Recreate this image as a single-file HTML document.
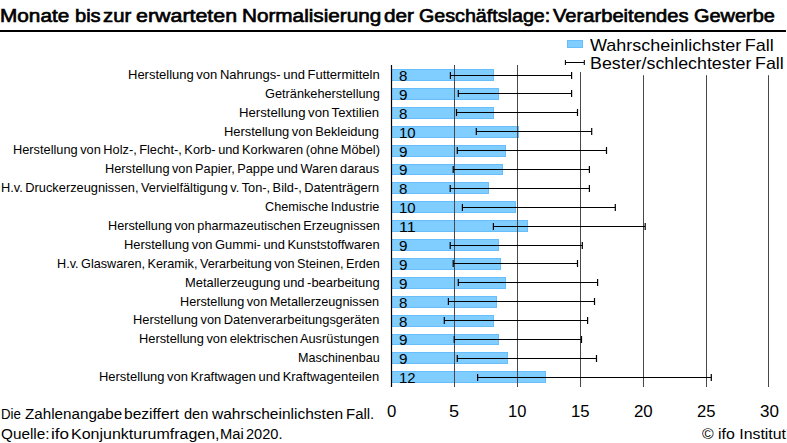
<!DOCTYPE html>
<html lang="de"><head><meta charset="utf-8"><title>Monate bis zur erwarteten Normalisierung der Geschäftslage</title>
<style>
html,body{margin:0;padding:0;background:#fff}
body{width:787px;height:443px;position:relative;overflow:hidden;font-family:"Liberation Sans",sans-serif;color:#000}
.t{position:absolute;white-space:nowrap;line-height:40px;transform-origin:0 0;display:block}
svg{position:absolute;left:0;top:0}
</style></head><body>

<svg width="787" height="443" viewBox="0 0 787 443">
<rect x="0" y="30" width="786" height="2" fill="#000"/>
<rect x="392" y="69" width="102" height="12" fill="#68bdfb"/>
<rect x="392" y="70" width="101" height="10" fill="#80ceff"/>
<rect x="392" y="88" width="107" height="12" fill="#68bdfb"/>
<rect x="392" y="89" width="106" height="10" fill="#80ceff"/>
<rect x="392" y="107" width="102" height="12" fill="#68bdfb"/>
<rect x="392" y="108" width="101" height="10" fill="#80ceff"/>
<rect x="392" y="126" width="127" height="12" fill="#68bdfb"/>
<rect x="392" y="127" width="126" height="10" fill="#80ceff"/>
<rect x="392" y="145" width="114" height="12" fill="#68bdfb"/>
<rect x="392" y="146" width="113" height="10" fill="#80ceff"/>
<rect x="392" y="164" width="111" height="11" fill="#68bdfb"/>
<rect x="392" y="165" width="110" height="9" fill="#80ceff"/>
<rect x="392" y="182" width="97" height="12" fill="#68bdfb"/>
<rect x="392" y="183" width="96" height="10" fill="#80ceff"/>
<rect x="392" y="201" width="124" height="12" fill="#68bdfb"/>
<rect x="392" y="202" width="123" height="10" fill="#80ceff"/>
<rect x="392" y="220" width="136" height="12" fill="#68bdfb"/>
<rect x="392" y="221" width="135" height="10" fill="#80ceff"/>
<rect x="392" y="239" width="107" height="12" fill="#68bdfb"/>
<rect x="392" y="240" width="106" height="10" fill="#80ceff"/>
<rect x="392" y="258" width="109" height="12" fill="#68bdfb"/>
<rect x="392" y="259" width="108" height="10" fill="#80ceff"/>
<rect x="392" y="277" width="114" height="12" fill="#68bdfb"/>
<rect x="392" y="278" width="113" height="10" fill="#80ceff"/>
<rect x="392" y="296" width="105" height="12" fill="#68bdfb"/>
<rect x="392" y="297" width="104" height="10" fill="#80ceff"/>
<rect x="392" y="315" width="102" height="12" fill="#68bdfb"/>
<rect x="392" y="316" width="101" height="10" fill="#80ceff"/>
<rect x="392" y="334" width="107" height="11" fill="#68bdfb"/>
<rect x="392" y="335" width="106" height="9" fill="#80ceff"/>
<rect x="392" y="352" width="116" height="12" fill="#68bdfb"/>
<rect x="392" y="353" width="115" height="10" fill="#80ceff"/>
<rect x="392" y="371" width="154" height="12" fill="#68bdfb"/>
<rect x="392" y="372" width="153" height="10" fill="#80ceff"/>
<rect x="454" y="65.0" width="1" height="322.0" fill="#484848"/>
<rect x="517" y="65.0" width="1" height="322.0" fill="#484848"/>
<rect x="580" y="72.1" width="1" height="314.9" fill="#484848"/>
<rect x="643" y="75.2" width="1" height="311.8" fill="#484848"/>
<rect x="706" y="75.2" width="1" height="311.8" fill="#484848"/>
<rect x="768" y="75.2" width="1" height="311.8" fill="#484848"/>
<rect x="390.9" y="65" width="1.2" height="322" fill="#000"/>
<path d="M450.4 75.50H571.6M450.4 72.00v7M571.6 72.00v7" stroke="#000" stroke-width="1.2" fill="none"/>
<path d="M458.3 93.50H571.6M458.3 90.00v7M571.6 90.00v7" stroke="#000" stroke-width="1.2" fill="none"/>
<path d="M456.5 112.50H577.5M456.5 109.00v7M577.5 109.00v7" stroke="#000" stroke-width="1.2" fill="none"/>
<path d="M476.3 131.50H591.7M476.3 128.00v7M591.7 128.00v7" stroke="#000" stroke-width="1.2" fill="none"/>
<path d="M457.3 150.50H606.5M457.3 147.00v7M606.5 147.00v7" stroke="#000" stroke-width="1.2" fill="none"/>
<path d="M453.2 169.50H589.4M453.2 166.00v7M589.4 166.00v7" stroke="#000" stroke-width="1.2" fill="none"/>
<path d="M450.2 188.50H589.4M450.2 185.00v7M589.4 185.00v7" stroke="#000" stroke-width="1.2" fill="none"/>
<path d="M462.4 207.50H615.3M462.4 204.00v7M615.3 204.00v7" stroke="#000" stroke-width="1.2" fill="none"/>
<path d="M493.4 226.50H645.2M493.4 223.00v7M645.2 223.00v7" stroke="#000" stroke-width="1.2" fill="none"/>
<path d="M450.2 245.50H582.3M450.2 242.00v7M582.3 242.00v7" stroke="#000" stroke-width="1.2" fill="none"/>
<path d="M453.2 263.50H577.5M453.2 260.00v7M577.5 260.00v7" stroke="#000" stroke-width="1.2" fill="none"/>
<path d="M458.3 282.50H597.6M458.3 279.00v7M597.6 279.00v7" stroke="#000" stroke-width="1.2" fill="none"/>
<path d="M448.4 301.50H594.5M448.4 298.00v7M594.5 298.00v7" stroke="#000" stroke-width="1.2" fill="none"/>
<path d="M444.3 320.50H587.6M444.3 317.00v7M587.6 317.00v7" stroke="#000" stroke-width="1.2" fill="none"/>
<path d="M454.2 339.50H581.5M454.2 336.00v7M581.5 336.00v7" stroke="#000" stroke-width="1.2" fill="none"/>
<path d="M457.3 358.50H596.5M457.3 355.00v7M596.5 355.00v7" stroke="#000" stroke-width="1.2" fill="none"/>
<path d="M477.6 377.50H711.3M477.6 374.00v7M711.3 374.00v7" stroke="#000" stroke-width="1.2" fill="none"/>
<rect x="567" y="40" width="16" height="8" fill="#68bdfb"/>
<rect x="568" y="41" width="14" height="6" fill="#80ceff"/>
<path d="M565.3 62.4H584.4M565.4 59.9v5M584.3 59.9v5" stroke="#000" stroke-width="1.05" fill="none"/>
</svg>
<span class="t" style="left:0.23px;top:-4.38px;font-size:19.1px;-webkit-text-stroke:0.68px #000;transform:scaleX(1.0872)">Monate</span>
<span class="t" style="left:74.53px;top:-4.38px;font-size:19.1px;-webkit-text-stroke:0.68px #000;transform:scaleX(1.0511)">bis</span>
<span class="t" style="left:102.94px;top:-4.38px;font-size:19.1px;-webkit-text-stroke:0.68px #000;transform:scaleX(1.0608)">zur</span>
<span class="t" style="left:135.85px;top:-4.38px;font-size:19.1px;-webkit-text-stroke:0.68px #000;transform:scaleX(1.1206)">erwarteten</span>
<span class="t" style="left:241.83px;top:-4.38px;font-size:19.1px;-webkit-text-stroke:0.68px #000;transform:scaleX(1.0845)">Normalisierung</span>
<span class="t" style="left:384.38px;top:-4.38px;font-size:19.1px;-webkit-text-stroke:0.68px #000;transform:scaleX(1.0860)">der</span>
<span class="t" style="left:418.95px;top:-4.38px;font-size:19.1px;-webkit-text-stroke:0.68px #000;transform:scaleX(1.0306)">Geschäftslage:</span>
<span class="t" style="left:553.31px;top:-4.38px;font-size:19.1px;-webkit-text-stroke:0.68px #000;transform:scaleX(1.0557)">Verarbeitendes</span>
<span class="t" style="left:693.74px;top:-4.38px;font-size:19.1px;-webkit-text-stroke:0.68px #000;transform:scaleX(1.0449)">Gewerbe</span>
<span class="t" style="left:590.49px;top:25.62px;font-size:16.6px;word-spacing:-0.08em;transform:scaleX(1.0840)">Wahrscheinlichster Fall</span>
<span class="t" style="left:590.29px;top:43.82px;font-size:16.6px;word-spacing:-0.08em;transform:scaleX(1.0741)">Bester/schlechtester Fall</span>
<span class="t" style="left:127.60px;top:54.88px;font-size:12.4px;word-spacing:-0.08em;transform:scaleX(1.0496)">Herstellung von Nahrungs- und Futtermitteln</span>
<span class="t" style="left:264.72px;top:73.77px;font-size:12.4px;word-spacing:-0.08em;transform:scaleX(1.0287)">Getränkeherstellung</span>
<span class="t" style="left:239.29px;top:92.66px;font-size:12.4px;word-spacing:-0.08em;transform:scaleX(1.0606)">Herstellung von Textilien</span>
<span class="t" style="left:224.41px;top:111.55px;font-size:12.4px;word-spacing:-0.08em;transform:scaleX(1.0410)">Herstellung von Bekleidung</span>
<span class="t" style="left:12.72px;top:130.44px;font-size:12.4px;word-spacing:-0.08em;transform:scaleX(1.0316)">Herstellung von Holz-, Flecht-, Korb- und Korkwaren (ohne Möbel)</span>
<span class="t" style="left:105.22px;top:149.33px;font-size:12.4px;word-spacing:-0.08em;transform:scaleX(1.0288)">Herstellung von Papier, Pappe und Waren daraus</span>
<span class="t" style="left:1.42px;top:168.22px;font-size:12.4px;word-spacing:-0.08em;transform:scaleX(1.0330)">H.v. Druckerzeugnissen, Vervielfältigung v. Ton-, Bild-, Datenträgern</span>
<span class="t" style="left:264.92px;top:187.11px;font-size:12.4px;word-spacing:-0.08em;transform:scaleX(1.0212)">Chemische Industrie</span>
<span class="t" style="left:107.53px;top:206.00px;font-size:12.4px;word-spacing:-0.08em;transform:scaleX(1.0208)">Herstellung von pharmazeutischen Erzeugnissen</span>
<span class="t" style="left:123.71px;top:224.89px;font-size:12.4px;word-spacing:-0.08em;transform:scaleX(1.0397)">Herstellung von Gummi- und Kunststoffwaren</span>
<span class="t" style="left:56.63px;top:243.78px;font-size:12.4px;word-spacing:-0.08em;transform:scaleX(1.0210)">H.v. Glaswaren, Keramik, Verarbeitung von Steinen, Erden</span>
<span class="t" style="left:185.11px;top:262.67px;font-size:12.4px;word-spacing:-0.08em;transform:scaleX(1.0419)">Metallerzeugung und -bearbeitung</span>
<span class="t" style="left:180.23px;top:281.56px;font-size:12.4px;word-spacing:-0.08em;transform:scaleX(1.0249)">Herstellung von Metallerzeugnissen</span>
<span class="t" style="left:133.31px;top:300.45px;font-size:12.4px;word-spacing:-0.08em;transform:scaleX(1.0364)">Herstellung von Datenverarbeitungsgeräten</span>
<span class="t" style="left:139.31px;top:319.34px;font-size:12.4px;word-spacing:-0.08em;transform:scaleX(1.0352)">Herstellung von elektrischen Ausrüstungen</span>
<span class="t" style="left:297.74px;top:338.23px;font-size:12.4px;word-spacing:-0.08em;transform:scaleX(1.0146)">Maschinenbau</span>
<span class="t" style="left:99.30px;top:357.12px;font-size:12.4px;word-spacing:-0.08em;transform:scaleX(1.0447)">Herstellung von Kraftwagen und Kraftwagenteilen</span>
<span class="t" style="left:398.69px;top:55.94px;font-size:14.0px;transform:scaleX(1.0783)">8</span>
<span class="t" style="left:398.60px;top:74.94px;font-size:14.0px;transform:scaleX(1.0900)">9</span>
<span class="t" style="left:398.69px;top:93.94px;font-size:14.0px;transform:scaleX(1.0783)">8</span>
<span class="t" style="left:398.64px;top:112.94px;font-size:14.0px;transform:scaleX(1.0680)">10</span>
<span class="t" style="left:398.60px;top:131.94px;font-size:14.0px;transform:scaleX(1.0900)">9</span>
<span class="t" style="left:398.60px;top:149.94px;font-size:14.0px;transform:scaleX(1.0900)">9</span>
<span class="t" style="left:398.69px;top:168.94px;font-size:14.0px;transform:scaleX(1.0783)">8</span>
<span class="t" style="left:398.64px;top:187.94px;font-size:14.0px;transform:scaleX(1.0680)">10</span>
<span class="t" style="left:398.54px;top:206.94px;font-size:14.0px;transform:scaleX(1.1519)">11</span>
<span class="t" style="left:398.60px;top:225.94px;font-size:14.0px;transform:scaleX(1.0900)">9</span>
<span class="t" style="left:398.60px;top:244.94px;font-size:14.0px;transform:scaleX(1.0900)">9</span>
<span class="t" style="left:398.60px;top:263.94px;font-size:14.0px;transform:scaleX(1.0900)">9</span>
<span class="t" style="left:398.69px;top:282.94px;font-size:14.0px;transform:scaleX(1.0783)">8</span>
<span class="t" style="left:398.69px;top:301.94px;font-size:14.0px;transform:scaleX(1.0783)">8</span>
<span class="t" style="left:398.60px;top:319.94px;font-size:14.0px;transform:scaleX(1.0900)">9</span>
<span class="t" style="left:398.60px;top:338.94px;font-size:14.0px;transform:scaleX(1.0900)">9</span>
<span class="t" style="left:398.63px;top:357.94px;font-size:14.0px;transform:scaleX(1.0692)">12</span>
<span class="t" style="left:387.31px;top:391.99px;font-size:17.0px;transform:scaleX(0.9869)">0</span>
<span class="t" style="left:449.47px;top:391.99px;font-size:17.0px;transform:scaleX(1.0669)">5</span>
<span class="t" style="left:507.88px;top:391.99px;font-size:17.0px;transform:scaleX(0.9701)">10</span>
<span class="t" style="left:570.86px;top:391.99px;font-size:17.0px;transform:scaleX(0.9844)">15</span>
<span class="t" style="left:633.50px;top:391.99px;font-size:17.0px;transform:scaleX(0.9911)">20</span>
<span class="t" style="left:696.71px;top:391.99px;font-size:17.0px;transform:scaleX(0.9764)">25</span>
<span class="t" style="left:759.73px;top:391.99px;font-size:17.0px;transform:scaleX(1.0002)">30</span>
<span class="t" style="left:0.87px;top:394.22px;font-size:15.5px;transform:scaleX(0.8555)">Die</span>
<span class="t" style="left:24.90px;top:394.22px;font-size:15.5px;transform:scaleX(0.9807)">Zahlenangabe</span>
<span class="t" style="left:123.84px;top:394.22px;font-size:15.5px;transform:scaleX(1.0036)">beziffert</span>
<span class="t" style="left:183.83px;top:394.22px;font-size:15.5px;transform:scaleX(0.9415)">den</span>
<span class="t" style="left:212.05px;top:394.22px;font-size:15.5px;transform:scaleX(1.0017)">wahrscheinlichsten</span>
<span class="t" style="left:346.42px;top:394.22px;font-size:15.5px;transform:scaleX(0.9650)">Fall.</span>
<span class="t" style="left:0.75px;top:413.92px;font-size:15.5px;transform:scaleX(0.9865)">Quelle:</span>
<span class="t" style="left:50.80px;top:413.92px;font-size:15.5px;transform:scaleX(1.0983)">ifo</span>
<span class="t" style="left:71.03px;top:413.92px;font-size:15.5px;transform:scaleX(1.0322)">Konjunkturumfragen,</span>
<span class="t" style="left:220.14px;top:413.92px;font-size:15.5px;transform:scaleX(0.9502)">Mai</span>
<span class="t" style="left:245.88px;top:413.92px;font-size:15.5px;transform:scaleX(0.9425)">2020.</span>
<span class="t" style="left:702.00px;top:413.89px;font-size:15.0px;transform:scaleX(1.0573)">© ifo Institut</span>
</body></html>
